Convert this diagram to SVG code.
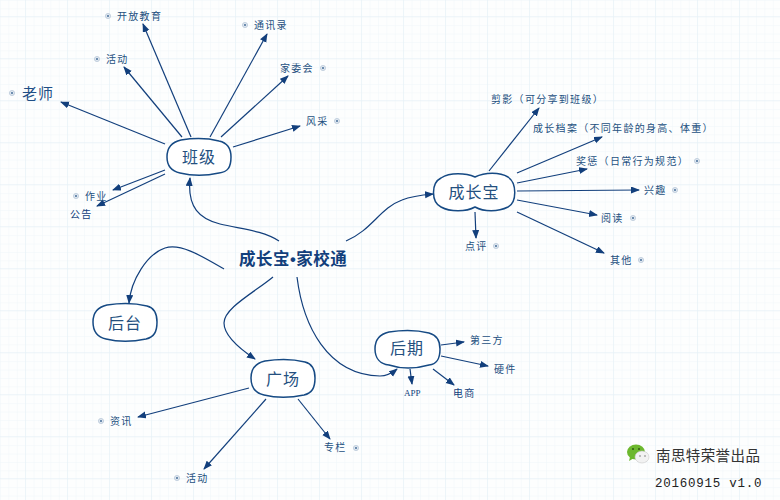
<svg xmlns="http://www.w3.org/2000/svg" width="780" height="500" viewBox="0 0 780 500">
<defs>
<pattern id="g" width="8.4" height="8.4" patternUnits="userSpaceOnUse"><path d="M8.4 0H0V8.4" fill="none" stroke="#f0f6f9" stroke-width="1"/></pattern>
<pattern id="G" x="25" y="16" width="42" height="42" patternUnits="userSpaceOnUse"><path d="M42 0H0V42" fill="none" stroke="#e4f0f6" stroke-width="1"/></pattern>
<marker id="a" markerUnits="userSpaceOnUse" markerWidth="10" markerHeight="8" refX="8" refY="3.5" orient="auto"><path d="M0 0L9 3.5L0 7z" fill="#123f7c"/></marker>
<g id="b"><circle r="2.6" fill="#dfe7ef" stroke="#a9bcd0" stroke-width=".6"/><circle r="1" fill="#476f9a"/></g>
</defs>
<style>
text{font-family:"Noto Sans CJK SC","Noto Sans",sans-serif;fill:#24507f}
.l{font-size:10px;letter-spacing:1.3px}
.d{fill:#123f7c}
.n{font-size:16px;letter-spacing:1px;text-anchor:middle;fill:#24507f}
.s{fill:#fff;stroke:#164a84;stroke-width:1.5}
.c path{fill:none;stroke:#123f7c;stroke-width:1.2}
.c .e{marker-end:url(#a)}
</style>
<rect width="780" height="500" fill="#fdfefe"/>
<rect width="780" height="500" fill="url(#g)"/>
<rect width="780" height="500" fill="url(#G)"/>
<g id="connectors" class="c">
<path class="e" d="M279 241C262 230 240 229 220 224C200 219 187 208 190 178"/>
<path class="e" d="M346 241C372 230 380 208 402 200C412 196 422 195 433 194"/>
<path class="e" d="M224 269C200 255 180 243 165 248C147 254 131 280 129 303"/>
<path class="e" d="M273 277C255 292 224 308 224 323C224 335 240 349 255 359"/>
<path class="e" d="M297 277C303 325 327 375 380 376C385 376 392 373 397 369"/>
<path class="e" d="M165 144L61 102"/>
<path class="e" d="M182 137L124 67"/>
<path class="e" d="M191 137L143 24"/>
<path class="e" d="M210 137L267 34"/>
<path class="e" d="M221 137L288 76"/>
<path class="e" d="M233 147L300 126"/>
<path class="e" d="M165 170L113 190"/>
<path class="e" d="M165 174L97 206"/>
<path class="e" d="M489 171L539 108"/>
<path class="e" d="M517 173L602 137"/>
<path class="e" d="M517 183L587 169"/>
<path class="e" d="M517 191L639 190"/>
<path class="e" d="M517 200L597 215"/>
<path class="e" d="M517 212L604 253"/>
<path class="e" d="M475 212L476 238"/>
<path class="e" d="M441 345L464 342"/>
<path class="e" d="M441 356L488 366"/>
<path class="e" d="M410 369L412 384"/>
<path class="e" d="M433 369L454 385"/>
<path class="e" d="M249 388L138 417"/>
<path class="e" d="M266 399L204 469"/>
<path class="e" d="M298 399L330 439"/>
</g>
<text id="root" x="239" y="265" style="font-size:16.5px;letter-spacing:.5px;font-weight:700;fill:#123f7c">成长宝<tspan style="font-family:'Liberation Sans',sans-serif">•</tspan>家校通</text>
<g id="n-banji"><path class="s" d="M181 140C194 138 207 138 219 141C228 143 231 149 231 157C231 167 228 172 219 173C206 176 192 176 180 173C171 171 167 166 167 157C167 148 172 142 181 140z"/><text class="n" x="199" y="163">班级</text></g>
<g id="n-chengzhangbao"><path class="s" d="M475 177C485 172 500 172 508 177C517 183 517 202 508 207C498 212 484 212 475 207C466 212 450 212 441 207C431 202 431 183 441 178C450 172 466 173 475 177z"/><text class="n" x="474" y="198">成长宝</text></g>
<g id="n-houtai"><path class="s" d="M107 305C120 303 135 303 147 306C155 308 157 314 157 322C157 332 154 337 146 339C132 342 118 342 106 339C97 337 93 331 93 322C93 313 98 307 107 305z"/><text class="n" x="125" y="329">后台</text></g>
<g id="n-guangchang"><path class="s" d="M265 361C278 359 293 359 305 362C313 364 315 370 315 378C315 388 312 393 304 395C290 398 276 398 264 395C255 393 251 387 251 378C251 369 256 363 265 361z"/><text class="n" x="283" y="385">广场</text></g>
<g id="n-houqi"><path class="s" d="M389 332C402 330 417 330 429 333C437 335 440 341 440 349C440 359 437 364 429 365C415 369 401 369 389 365C380 364 375 358 375 349C375 340 380 334 389 332z"/><text class="n" x="407" y="354">后期</text></g>
<g id="t-laoshi"><use href="#b" x="12" y="93"/><text x="22" y="99" style="font-size:15px;letter-spacing:1px;fill:#1f4f86">老师</text></g>
<g id="t-1"><use href="#b" x="108" y="16"/><text class="l" x="117" y="20">开放教育</text></g>
<g id="t-2"><use href="#b" x="97" y="59"/><text class="l" x="106" y="63">活动</text></g>
<g id="t-3"><use href="#b" x="245" y="25"/><text class="l" x="254" y="29">通讯录</text></g>
<g id="t-4"><text class="l" x="280" y="72">家委会</text><use href="#b" x="323" y="68"/></g>
<g id="t-5"><text class="l" x="306" y="125">风采</text><use href="#b" x="337" y="121"/></g>
<g id="t-6"><use href="#b" x="76" y="196"/><text class="l" x="85" y="200">作业</text></g>
<g id="t-7"><text class="l d" x="70" y="218">公告</text></g>
<g id="t-8"><text class="l" x="491" y="103">剪影（可分享到班级）</text></g>
<g id="t-9"><text class="l" x="533" y="132">成长档案（不同年龄的身高、体重）</text></g>
<g id="t-10"><text class="l" x="576" y="165">奖惩（日常行为规范）</text><use href="#b" x="697" y="161"/></g>
<g id="t-11"><text class="l" x="644" y="194">兴趣</text><use href="#b" x="675" y="190"/></g>
<g id="t-12"><text class="l" x="601" y="222">阅读</text><use href="#b" x="633" y="218"/></g>
<g id="t-13"><text class="l" x="610" y="264">其他</text><use href="#b" x="641" y="260"/></g>
<g id="t-14"><text class="l" x="465" y="250">点评</text><use href="#b" x="496" y="246"/></g>
<g id="t-15"><text class="l" x="470" y="344">第三方</text></g>
<g id="t-16"><text class="l" x="494" y="373">硬件</text></g>
<g id="t-17"><text x="404" y="396" style="font-family:'Liberation Serif',serif;font-size:9px;fill:#123f7c">APP</text></g>
<g id="t-18"><text class="l d" x="453" y="397">电商</text></g>
<g id="t-19"><use href="#b" x="101" y="421"/><text class="l" x="110" y="425">资讯</text></g>
<g id="t-20"><use href="#b" x="177" y="478"/><text class="l" x="186" y="482">活动</text></g>
<g id="t-21"><text class="l" x="324" y="451">专栏</text><use href="#b" x="356" y="448"/></g>
<g id="logo"><ellipse cx="636" cy="452" rx="9" ry="7.5" fill="#6cb82e"/><path d="M630 457L629 461L634 458z" fill="#6cb82e"/><ellipse cx="642" cy="457" rx="7" ry="6" fill="#f2f2f2" stroke="#c9c9c9" stroke-width=".6"/><circle cx="633" cy="449" r="1" fill="#2f5a12"/><circle cx="639" cy="449" r="1" fill="#2f5a12"/><circle cx="640" cy="456" r=".8" fill="#777"/><circle cx="645" cy="456" r=".8" fill="#777"/>
<text x="656" y="461" style="font-size:14.5px;fill:#333;letter-spacing:.4px">南思特荣誉出品</text>
<text x="655" y="487" style="font-family:'Liberation Mono',monospace;font-size:12.5px;letter-spacing:.75px;fill:#222">20160915 v1.0</text></g>
</svg>
